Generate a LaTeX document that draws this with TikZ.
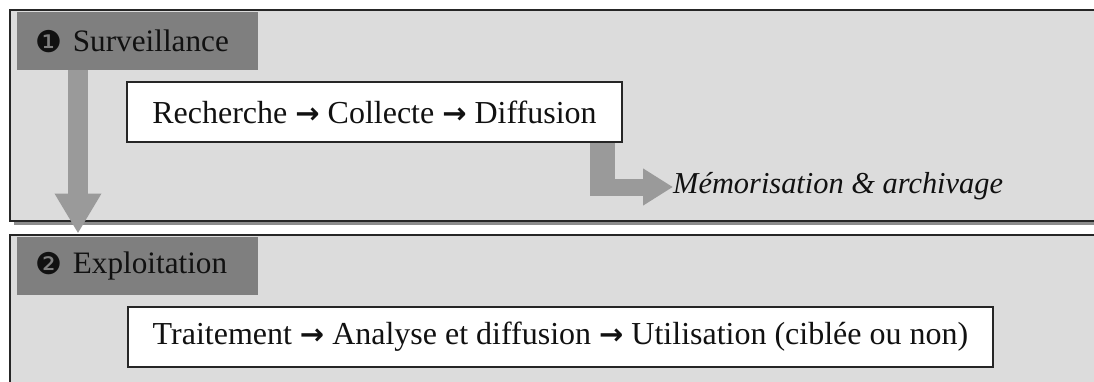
\documentclass[tikz,border=0pt]{standalone}
\usepackage{fontspec}
\setmainfont{Liberation Serif}
\newfontfamily\symfont{DejaVu Sans}
\usetikzlibrary{arrows.meta}

\definecolor{panelfill}{HTML}{DCDCDC}
\definecolor{panelline}{HTML}{262626}
\definecolor{panelshadow}{HTML}{8C8C8C}
\definecolor{headfill}{HTML}{7F7F7F}
\definecolor{flowfill}{HTML}{9A9A9A}
\definecolor{ink}{HTML}{111111}

% bold arrow used inside the step boxes
\newcommand{\stepto}{{\symfont\bfseries\fontsize{29}{30}\selectfont →}}
\newcommand{\badge}[1]{\raisebox{-1pt}{\symfont\fontsize{30}{30}\selectfont #1}}

\tikzset{
  panel/.style={draw=panelline, line width=2.4pt, fill=panelfill,
    rectangle, inner sep=0pt, anchor=north west},
  headbox/.style={fill=headfill, rectangle, inner sep=0pt, anchor=north west,
    minimum width=241pt, minimum height=58pt},
  headtext/.style={text=ink, inner sep=0pt, anchor=west,
    font=\fontsize{31.2}{36}\selectfont},
  stepbox/.style={draw=panelline, line width=1.8pt, fill=white, rectangle,
    inner sep=0pt, minimum height=60pt, text=ink,
    font=\fontsize{32}{36}\selectfont},
  notetext/.style={text=ink, inner sep=0pt,
    font=\fontsize{30.4}{36}\selectfont\itshape},
  blockflow/.style={draw=flowfill, line cap=butt, line join=miter}
}

\begin{document}
\begin{tikzpicture}[x=1pt,y=-1pt]
  \useasboundingbox (0,0) rectangle (1094,381);
  \fill[white] (0,0) rectangle (1094,381);

  % stage 1 panel with its drop shadow
  \fill[panelshadow] (14,14) rectangle (1110,224.5);
  \node[panel, minimum width=1100pt, minimum height=211pt] (p1) at (9,9) {};

  % stage 2 panel
  \node[panel, minimum width=1100pt, minimum height=160pt] (p2) at (9,233.5) {};

  % stage headers
  \node[headbox] (h1) at (17,12) {};
  \node[headtext] (t1) at ([xshift=18pt]h1.west) {\badge{❶}\hspace{3pt} Surveillance};
  \node[headbox] (h2) at (17,237) {};
  \node[headtext] (t2) at ([xshift=18pt]h2.west) {\badge{❷}\hspace{3pt} Exploitation};

  % step boxes
  \node[stepbox, minimum width=495pt] (r1) at (374.5,112)
    {Recherche \stepto{} Collecte \stepto{} Diffusion};
  \node[stepbox, minimum width=865pt] (r2) at (560.5,337)
    {Traitement \stepto{} Analyse et diffusion \stepto{} Utilisation (ciblée ou non)};

  % archive note
  \node[notetext, anchor=base west] (mem) at (673,193) {Mémorisation \& archivage};

  % stage 1 -> stage 2 block arrow
  \coordinate (dropx) at (78,0);
  \draw[blockflow, line width=20pt,
        -{Triangle[width=44pt,length=40pt,fill=flowfill]}]
    (h1.south -| dropx) -- (p2.north -| dropx);

  % bent block arrow from the step box to the note
  \coordinate (bend) at (602.5,187);
  \draw[blockflow, line width=25pt] (r1.south -| bend) -- ([yshift=8.5pt]bend);
  \draw[blockflow, line width=17pt,
        -{Triangle[width=35pt,length=30pt,fill=flowfill]}]
    ([xshift=-12.5pt]bend) -- (mem.west |- bend);
\end{tikzpicture}
\end{document}
